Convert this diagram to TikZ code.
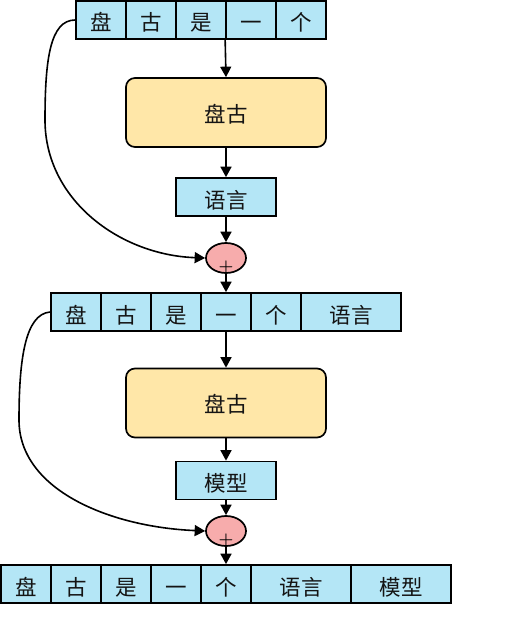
\documentclass[tikz,border=0pt]{standalone}
\usepackage{fontspec}
\newfontfamily\cjk{Noto Sans CJK SC}
\usetikzlibrary{arrows.meta,shapes.geometric}
\definecolor{cellblue}{RGB}{180,230,246}
\definecolor{boxyellow}{RGB}{255,231,168}
\definecolor{elpink}{RGB}{247,172,172}
\definecolor{txt}{RGB}{20,20,20}
\begin{document}
\begin{tikzpicture}[x=1pt,y=-1pt,
  every node/.style={text=txt},
  cell/.style={draw=black, fill=cellblue, line width=1.7pt, inner sep=0pt,
    minimum width=50pt, minimum height=38pt,
    font=\cjk\fontsize{21.5}{24}\selectfont, text height=22.5pt, text depth=0.5pt},
  wide/.style={cell, minimum width=100pt},
  core/.style={draw=black, fill=boxyellow, line width=1.7pt, rounded corners=9pt,
    inner sep=0pt, minimum width=200pt, minimum height=69pt,
    font=\cjk\fontsize{21.5}{24}\selectfont, text height=21pt, text depth=1.5pt},
  addop/.style={ellipse, draw=black, fill=elpink, line width=1.7pt, inner sep=0pt,
    minimum width=40pt, minimum height=30pt},
  plus/.style={inner sep=0pt, text=black, font=\bfseries\fontsize{17}{17}\selectfont},
  arr/.style={line width=1.6pt, -{Triangle[length=10.5pt,width=11pt]}}
]
\useasboundingbox[fill=white] (0,0) rectangle (504,618);

% row 1
\node[cell] (r1c1) at (101,20) {盘};
\node[cell] (r1c2) at (151,20) {古};
\node[cell] (r1c3) at (201,20) {是};
\node[cell] (r1c4) at (251,20) {一};
\node[cell] (r1c5) at (301,20) {个};

\node[core] (p1) at (226,112.5) {盘古};
\node[cell, minimum width=100pt] (y1) at (226,197) {语言};
\node[addop] (e1) at (226,258) {};
\node[plus] (pl1) at (226,267.5) {+};

% row 2
\node[cell] (r2c1) at (76,312) {盘};
\node[cell] (r2c2) at (126,312) {古};
\node[cell] (r2c3) at (176,312) {是};
\node[cell] (r2c4) at (226,312) {一};
\node[cell] (r2c5) at (276,312) {个};
\node[wide] (r2c6) at (351,312) {语言};

\node[core] (p2) at (226,403) {盘古};
\node[cell, minimum width=100pt] (m1) at (226,480.5) {模型};
\node[addop] (e2) at (226,531) {};
\node[plus] (pl2) at (226,540.5) {+};

% row 3
\node[cell] (r3c1) at (26,584) {盘};
\node[cell] (r3c2) at (76,584) {古};
\node[cell] (r3c3) at (126,584) {是};
\node[cell] (r3c4) at (176,584) {一};
\node[cell] (r3c5) at (226,584) {个};
\node[wide] (r3c6) at (301,584) {语言};
\node[wide] (r3c7) at (401,584) {模型};

% straight arrows
\draw[arr] (r1c4.south west) -- (p1.north);
\draw[arr] (p1.south) -- (y1.north);
\draw[arr] (y1.south) -- (e1.north);
\draw[arr] (e1.south) -- (r2c4.north);
\draw[arr] (r2c4.south) -- (p2.north);
\draw[arr] (p2.south) -- (m1.north);
\draw[arr] (m1.south) -- (e2.north);
\draw[arr] (e2.south) -- (r3c5.north);

% residual curves
\draw[arr] (r1c1.west) .. controls (50,20) and (45,60) .. (45,120)
  .. controls (45,200) and (120,255) .. (e1.west);
\draw[arr] (r2c1.west) .. controls (25,314) and (19,360) .. (19,420)
  .. controls (19,490) and (110,527) .. (e2.west);
\end{tikzpicture}
\end{document}
